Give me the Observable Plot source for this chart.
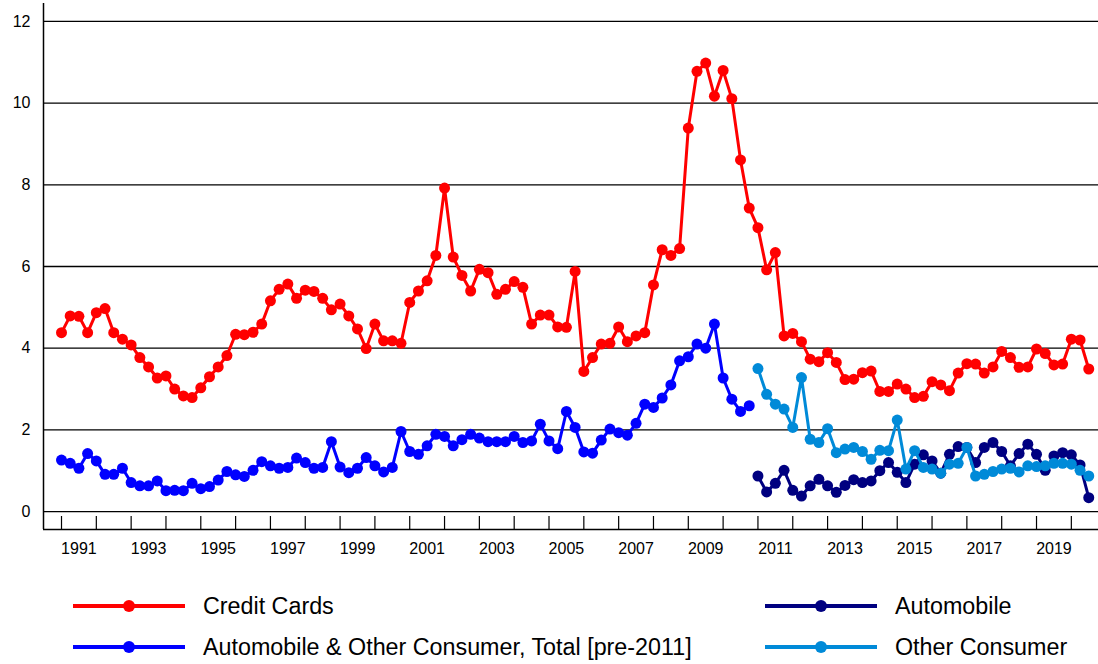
<!DOCTYPE html>
<html><head><meta charset="utf-8">
<script src="https://cdn.jsdelivr.net/npm/d3@7"></script>
<script src="https://cdn.jsdelivr.net/npm/@observablehq/plot@0.6"></script>
<style>
body{margin:0;background:#fff;font-family:"Liberation Sans",Arial,sans-serif;}
#wrap{position:relative;width:1098px;height:664px;overflow:hidden;}
.leg{position:absolute;display:flex;align-items:center;font-size:23.3px;color:#000;height:30px;white-space:nowrap;}
.leg svg{margin-right:18px;}
</style></head><body><div id="wrap"><div id="chart"></div></div>
<script>
// Quarterly values, first point = 1990Q4 (quarter end), step one quarter
const creditCards = [4.38,4.79,4.78,4.38,4.87,4.97,4.38,4.22,4.08,3.77,
3.54,3.27,3.32,3.00,2.83,2.79,3.03,3.30,3.54,3.82,
4.34,4.33,4.39,4.59,5.16,5.44,5.57,5.22,5.42,5.39,
5.22,4.94,5.08,4.79,4.47,3.99,4.59,4.18,4.18,4.12,
5.12,5.40,5.65,6.27,7.92,6.23,5.78,5.40,5.93,5.85,
5.32,5.44,5.63,5.49,4.59,4.81,4.81,4.52,4.51,5.88,
3.43,3.77,4.10,4.12,4.52,4.16,4.30,4.38,5.55,6.41,
6.27,6.44,9.39,10.78,10.98,10.17,10.80,10.11,8.61,7.43,
6.95,5.92,6.34,4.30,4.36,4.16,3.73,3.67,3.89,3.65,
3.23,3.24,3.40,3.44,2.94,2.94,3.12,3.00,2.79,2.82,
3.18,3.10,2.96,3.39,3.62,3.61,3.39,3.54,3.92,3.77,
3.53,3.54,3.98,3.87,3.59,3.61,4.22,4.20,3.49];
const autoOtherTotal = [1.26,1.18,1.06,1.42,1.24,0.91,0.91,1.06,0.71,0.63,
0.63,0.75,0.51,0.52,0.51,0.69,0.56,0.61,0.77,0.98,
0.90,0.86,1.01,1.22,1.12,1.06,1.08,1.31,1.20,1.06,
1.08,1.71,1.09,0.95,1.06,1.32,1.12,0.97,1.08,1.96,
1.47,1.40,1.61,1.89,1.84,1.61,1.76,1.89,1.80,1.71,
1.71,1.71,1.84,1.69,1.73,2.14,1.73,1.54,2.45,2.06,
1.46,1.43,1.75,2.02,1.93,1.87,2.16,2.63,2.55,2.78,
3.10,3.69,3.79,4.10,4.00,4.59,3.27,2.75,2.45,2.59];
// start at 2010Q4 (index 80)
const automobile = [0.87,0.48,0.69,1.01,0.52,0.38,0.63,0.79,0.63,0.47,
0.64,0.78,0.71,0.75,1.00,1.20,0.96,0.71,1.16,1.39,
1.24,0.94,1.40,1.59,1.57,1.20,1.57,1.69,1.47,1.12,
1.42,1.65,1.40,1.01,1.36,1.44,1.39,1.14,0.34];
const otherConsumer = [3.50,2.87,2.63,2.51,2.06,3.28,1.77,1.69,2.03,1.44,
1.53,1.57,1.47,1.28,1.50,1.49,2.24,1.04,1.49,1.08,
1.04,0.94,1.16,1.18,1.57,0.87,0.91,0.98,1.04,1.06,
0.97,1.12,1.10,1.12,1.18,1.18,1.16,1.01,0.87];

const startYear = 1991;      // quarter end of 1990Q4
const newSeriesOffset = 80;  // 2010Q4
const tickYears = d3.range(1991, 2021);
const labelYears = d3.range(1991, 2020, 2);
const yTicks = [0,2,4,6,8,10,12];

const seriesNames = ["Credit Cards","Automobile","Automobile & Other Consumer, Total [pre-2011]","Other Consumer"];
const seriesColors = ["#ff0000","#000080","#0000ff","#008ad8"];

const toRows = (vals, off) => vals.map((v,i)=>({x: startYear + (i+off)/4, y: v}));
const cc = toRows(creditCards, 0);
const tot = toRows(autoOtherTotal, 0);
const auto = toRows(automobile, newSeriesOffset);
const oth = toRows(otherConsumer, newSeriesOffset);

const xDom = [1990.483, 2020.78];
const yDom = [-0.44, 12.44];

const plot = Plot.plot({
  width: 1098, height: 570,
  marginLeft: 43, marginRight: 0, marginTop: 3, marginBottom: 41,
  x: {type: "linear", domain: xDom, label: null},
  y: {domain: yDom, label: null},
  style: {fontFamily: '"Liberation Sans", Arial, sans-serif', fontSize: "16px", color: "#000", background: "#fff"},
  marks: [
    Plot.ruleY(yTicks, {stroke: "#000", strokeWidth: 1.3}),
    Plot.ruleX([xDom[0]], {stroke: "#000", strokeWidth: 1.5}),
    Plot.ruleY([yDom[0]], {stroke: "#000", strokeWidth: 1.5}),
    Plot.axisX(tickYears, {tickSize: -13, tickFormat: () => "", label: null, stroke: "#000", strokeWidth: 1.2}),
    Plot.axisX(labelYears.map(d => d + 0.5), {tickSize: 0, tickPadding: 13, label: null, tickFormat: d => String(Math.floor(d)), fontSize: 16, fill: "#000"}),
    Plot.axisY(yTicks, {tickSize: 0, tickPadding: 13, label: null, fontSize: 16, fill: "#000"}),
    Plot.line(cc, {x: "x", y: "y", stroke: seriesColors[0], strokeWidth: 3}),
    Plot.dot(cc, {x: "x", y: "y", fill: seriesColors[0], r: 5.5}),
    Plot.line(tot, {x: "x", y: "y", stroke: seriesColors[2], strokeWidth: 3}),
    Plot.dot(tot, {x: "x", y: "y", fill: seriesColors[2], r: 5.5}),
    Plot.line(auto, {x: "x", y: "y", stroke: seriesColors[1], strokeWidth: 3}),
    Plot.dot(auto, {x: "x", y: "y", fill: seriesColors[1], r: 5.5}),
    Plot.line(oth, {x: "x", y: "y", stroke: seriesColors[3], strokeWidth: 3}),
    Plot.dot(oth, {x: "x", y: "y", fill: seriesColors[3], r: 5.5})
  ]
});
document.getElementById("chart").appendChild(plot);

// Legend (HTML, below the SVG)
const legPos = [[73,606],[765,606],[73,647],[765,647]];
const wrap = document.getElementById("wrap");
seriesNames.forEach((name, i) => {
  const div = document.createElement("div");
  div.className = "leg";
  div.style.left = legPos[i][0] + "px";
  div.style.top = (legPos[i][1] - 15) + "px";
  div.innerHTML = `<svg width="112" height="14"><line x1="0" x2="112" y1="7" y2="7" stroke="${seriesColors[i]}" stroke-width="4"/><circle cx="56" cy="7" r="6" fill="${seriesColors[i]}"/></svg><span>${name.replace(/&/g,"&amp;")}</span>`;
  wrap.appendChild(div);
});
</script>
</body></html>
